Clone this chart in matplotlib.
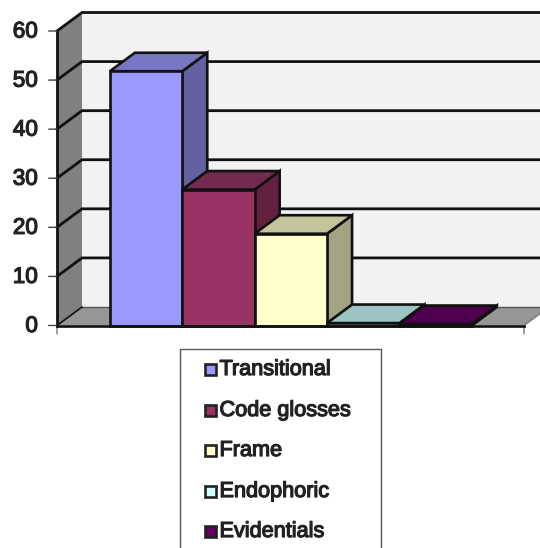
import matplotlib
matplotlib.use("Agg")
import matplotlib.pyplot as plt
import matplotlib.patheffects as pe
from matplotlib.patches import Polygon, Rectangle

categories = ["Transitional", "Code glosses", "Frame", "Endophoric", "Evidentials"]
values = [51.8, 27.7, 18.7, 0.5, 0.3]
yticks = [0, 10, 20, 30, 40, 50, 60]

front = ["#9999FF", "#993366", "#FFFFCC", "#CCFFFF", "#660066"]
top = ["#7777C4", "#722A4E", "#C4C49C", "#9CC4C4", "#4E004E"]
side = ["#6262A3", "#62213F", "#A3A382", "#6F9090", "#3D003D"]

W, H = 540, 548
L, R, B, T = 57, 524, 325.5, 31
fig = plt.figure(figsize=(W / 100, H / 100), dpi=100, facecolor="white")
ax = fig.add_axes([L / W, 1 - B / H, (R - L) / W, (B - T) / H])
ax.set_xlim(-0.73, 5.72)
ax.set_ylim(0, 60)
ax.axis("off")

dx = 25 / ((R - L) / 6.45)
dy = 18.5 / ((B - T) / 60)
x0, x1 = ax.get_xlim()
lw = 1.9
ink = "#111111"
kw = dict(clip_on=False, joinstyle="miter")

def poly(pts, fc, ec=ink, lw=lw, z=1):
    ax.add_patch(Polygon(pts, closed=True, fc=fc, ec=ec, lw=lw, zorder=z, **kw))

# walls and floor
poly([(x0 + dx, dy), (x1 + dx, dy), (x1 + dx, 60 + dy), (x0 + dx, 60 + dy)], "#F2F2F2", ec="none", z=1)
poly([(x0, 0), (x0 + dx, dy), (x0 + dx, 60 + dy), (x0, 60)], "#808080", ec="none", z=1)
poly([(x0, 0), (x1, 0), (x1 + dx, dy), (x0 + dx, dy)], "#969696", ec="none", z=1)

# gridlines
for t in yticks[1:]:
    ax.plot([x0, x0 + dx, x1 + dx], [t, t + dy, t + dy], color=ink, lw=2, zorder=2, clip_on=False,
            solid_joinstyle="miter")
ax.plot([x0 + dx, x1 + dx], [dy, dy], color="#555555", lw=1, zorder=2, clip_on=False)
ax.plot([x0, x0 + dx], [0, dy], color=ink, lw=1.2, zorder=2, clip_on=False)
ax.plot([x0, x0], [0, 60], color=ink, lw=2, zorder=2, clip_on=False)

# bars
for i, (v, f, t, s) in enumerate(zip(values, front, top, side)):
    z = 3 + i
    poly([(i + 1, 0), (i + 1 + dx, dy), (i + 1 + dx, v + dy), (i + 1, v)], s, z=z)
    poly([(i, v), (i + 1, v), (i + 1 + dx, v + dy), (i + dx, v + dy)], t, z=z)
    poly([(i, 0), (i + 1, 0), (i + 1, v), (i, v)], f, z=z)

# axis lines and ticks
ax.plot([x0, x1], [0, 0], color=ink, lw=1.9, zorder=10, clip_on=False)
ax.plot([x1 + dx, x1], [dy, 0], color="#777777", lw=1, zorder=1, clip_on=False)
effect = [pe.withStroke(linewidth=0.9, foreground="#222222")]
for t in yticks:
    ax.annotate("", xy=(x0, t), xytext=(-6, 0), textcoords="offset points",
                arrowprops=dict(arrowstyle="-", color="#444444", lw=1, shrinkA=0, shrinkB=0))
    ax.annotate(str(t), xy=(x0, t), xytext=(-19, -1), textcoords="offset pixels",
                ha="right", va="center", fontsize=16.2, family="Liberation Sans",
                color="#222222", path_effects=effect, annotation_clip=False)
for xx in (x0, x1):
    ax.annotate("", xy=(xx, 0), xytext=(0, -6), textcoords="offset points",
                arrowprops=dict(arrowstyle="-", color="#777777", lw=1, shrinkA=0, shrinkB=0))

# legend, whose box runs off the bottom of the figure
fig.add_artist(Rectangle((180 / W, 1 - 600 / H), 201 / W, 251 / H, transform=fig.transFigure,
                         fc="white", ec="#555555", lw=1))
rows = [369, 410, 450, 491, 531]
for name, f, yy in zip(categories, front, rows):
    fig.add_artist(Rectangle((205 / W, 1 - (yy + 5.5) / H), 11 / W, 11 / H, transform=fig.transFigure,
                             fc=f, ec="#222222", lw=1.9))
    fig.text(219.5 / W, 1 - (yy + 0.5) / H, name, ha="left", va="center", fontsize=15.6,
             family="Liberation Sans", color="#222222", path_effects=effect)

fig.savefig("out.png", dpi=100)
